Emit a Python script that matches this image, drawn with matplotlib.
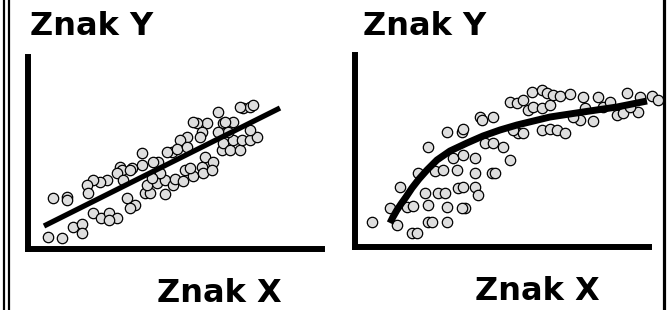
import matplotlib
matplotlib.use("Agg")
import matplotlib.pyplot as plt
from matplotlib.lines import Line2D

# lewy wykres - zaleznosc liniowa
lin_x = [20, 34, 45, 54, 54, 65, 73, 81, 89, 81, 99, 107, 102, 117, 122, 119, 129, 137,
         137, 145, 147, 155, 157, 165, 162, 174, 177, 185, 175, 184, 194, 195, 202, 205,
         212, 214, 222, 229, 222, 205, 195, 190, 179, 169, 165, 174, 172, 159, 152, 144,
         139, 149, 159, 130, 125, 114, 114, 104, 92, 94, 89, 95, 79, 72, 65, 59, 60, 39,
         39, 25, 215, 222, 225, 212, 197, 200, 190, 132, 124, 102]
lin_y = [12, 11, 22, 25, 16, 36, 31, 36, 31, 29, 51, 44, 41, 56, 56, 64, 66, 55,
         69, 64, 70, 68, 79, 73, 81, 82, 92, 87, 76, 79, 99, 106, 99, 109,
         99, 109, 109, 112, 119, 127, 126, 137, 126, 126, 127, 117, 112, 112, 109, 97,
         97, 100, 102, 87, 87, 96, 84, 81, 82, 79, 76, 69, 69, 67, 69, 64, 56, 52,
         49, 51, 141, 142, 144, 142, 127, 117, 117, 76, 71, 79]
lin_fit_x = [16, 252]
lin_fit_y = [23, 141]

# prawy wykres - zaleznosc krzywoliniowa
cur_x = [17, 35, 42, 57, 62, 45, 52, 58, 63, 70, 73, 73, 77, 73, 80, 83, 90, 92, 92,
         88, 92, 102, 103, 108, 107, 110, 107, 108, 98, 108, 120, 120, 120, 123, 125,
         127, 138, 130, 138, 137, 140, 148, 155, 155, 162, 168, 173, 178, 187, 195, 177,
         187, 192, 198, 205, 215, 187, 195, 202, 210, 163, 168, 158, 228, 243, 230, 238,
         225, 248, 262, 272, 285, 297, 303, 283, 268, 275, 218, 255]
cur_y = [25, 39, 22, 14, 14, 60, 40, 41, 74, 54, 42, 25, 25, 100, 76, 54, 54, 40, 25,
         77, 115, 77, 59, 60, 115, 39, 39, 118, 89, 92, 89, 74, 60, 52, 130,
         127, 130, 104, 104, 74, 74, 100, 87, 145, 144, 147, 137, 140, 139, 142, 155,
         157, 154, 152, 151, 153, 117, 118, 117, 114, 114, 114, 117, 150, 150, 139, 126,
         127, 140, 132, 154, 150, 151, 147, 135, 134, 140, 130, 145]
cur_fit_x = [35, 38, 42, 46, 51, 57, 64, 72, 82, 95, 112, 128, 145, 162, 195, 228, 262, 292]
cur_fit_y = [24, 30, 37, 43, 50, 59, 68, 77, 87, 96, 104, 111, 117, 122, 130, 135, 140, 146]

W, H = 668, 310
fig = plt.figure(figsize=(W / 100, H / 100), dpi=100)
fig.patch.set_facecolor("white")


def panel(x0, y0, xs, ys, fx, fy, lw):
    ax = fig.add_axes([x0 / W, (H - y0) / H, 294 / W, 192 / H])
    ax.set_xlim(0, 294)
    ax.set_ylim(0, 192)
    ax.set_xticks([])
    ax.set_yticks([])
    for s in ["top", "right"]:
        ax.spines[s].set_visible(False)
    for s in ["left", "bottom"]:
        ax.spines[s].set_linewidth(4.3)
        ax.spines[s].set_color("black")
    ax.patch.set_alpha(0)
    ax.scatter(xs, ys, s=56, facecolor="#dedede", edgecolor="black",
               linewidth=0.9, clip_on=False, zorder=2)
    ax.plot(fx, fy, color="black", lw=lw, solid_capstyle="butt",
            solid_joinstyle="round", clip_on=False, zorder=3)
    return ax


panel(28, 249, lin_x, lin_y, lin_fit_x, lin_fit_y, 3.8)
panel(355, 247, cur_x, cur_y, cur_fit_x, cur_fit_y, 5.0)

font = dict(family="DejaVu Sans", fontweight="bold", fontsize=23, color="black")
fig.text(30 / W, 1 - 35 / H, "Znak Y", va="baseline", ha="left", **font)
fig.text(363 / W, 1 - 35 / H, "Znak Y", va="baseline", ha="left", **font)
fig.text(157 / W, 1 - 302 / H, "Znak X", va="baseline", ha="left", **font)
fig.text(475 / W, 1 - 300 / H, "Znak X", va="baseline", ha="left", **font)

# ramka
for px, lw in [(4, 1.6), (9, 1.6), (663.5, 2.3)]:
    fig.add_artist(Line2D([px / W, px / W], [0, 1], color="black", lw=lw,
                          transform=fig.transFigure))

fig.savefig("out.png", dpi=100, facecolor="white")
